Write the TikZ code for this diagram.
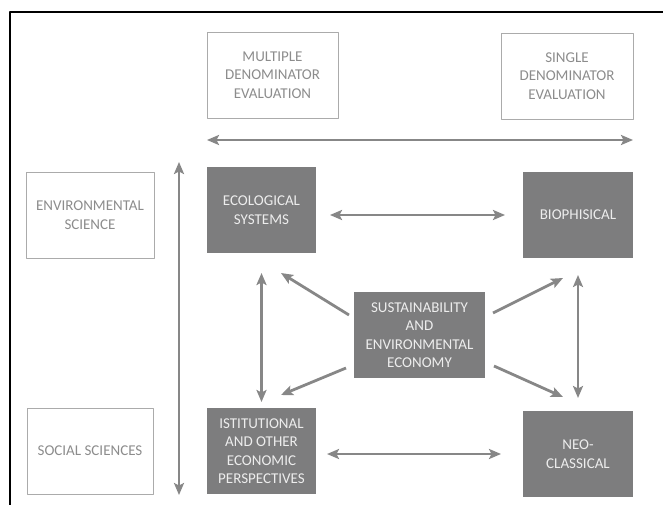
\documentclass[tikz,border=0pt]{standalone}
\usepackage{fontspec}
\setmainfont{Carlito}
\usetikzlibrary{arrows.meta}
\definecolor{boxgray}{HTML}{7D7D7E}
\definecolor{arrowgray}{HTML}{878787}
\definecolor{edgegray}{HTML}{ABABAB}
\definecolor{textgray}{HTML}{8C8C8C}

\begin{document}
\begin{tikzpicture}[x=1pt,y=-1pt,line join=round,>={Stealth[length=12pt,width=10pt,inset=2.5pt]},
    darkbox/.style={fill=boxgray,text=white!93!black,align=center,inner sep=0pt,outer sep=0pt,
      minimum width=110pt,minimum height=86pt,font=\fontsize{15}{18.5}\selectfont},
    lightbox/.style={draw=edgegray,line width=0.8pt,text=textgray,align=center,inner sep=0pt,outer sep=0pt,
      minimum width=128pt,minimum height=86pt,font=\fontsize{15}{18.5}\selectfont},
    twoway/.style={<->,draw=arrowgray,line width=2.8pt},
    oneway/.style={->,draw=arrowgray,line width=2.8pt}]
  \useasboundingbox (0,0) rectangle (663,505);
  \draw [line width=1.3pt] (10,505) -- (10,12) -- (663,12);
  % evaluation axis
  \node [lightbox,minimum width=131pt] (mde) at (272.5,75) {MULTIPLE\\DENOMINATOR\\EVALUATION};
  \node [lightbox,minimum width=132pt] (sde) at (567,76) {SINGLE\\DENOMINATOR\\EVALUATION};
  \coordinate (evalL) at (207,140);
  \coordinate (evalR) at (633,140);
  \draw [twoway] (evalL) -- (evalR);
  % science axis
  \node [lightbox] (envsci) at (90,215) {ENVIRONMENTAL\\SCIENCE};
  \node [lightbox,minimum width=126pt] (socsci) at (90,451) {SOCIAL SCIENCES};
  \coordinate (sciT) at (179,162);
  \coordinate (sciB) at (179,495);
  \draw [twoway] (sciT) -- (sciB);
  % schools
  \node [darkbox,minimum width=109pt] (eco) at (261.5,210) {ECOLOGICAL\\SYSTEMS};
  \node [darkbox] (bio) at (578,215) {BIOPHISICAL};
  \node [darkbox,minimum width=131pt] (sus) at (419.5,335) {SUSTAINABILITY\\AND\\ENVIRONMENTAL\\ECONOMY};
  \node [darkbox,minimum width=109pt] (isti) at (261.5,451) {ISTITUTIONAL\\AND OTHER\\ECONOMIC\\PERSPECTIVES};
  \node [darkbox] (neo) at (578,454) {NEO-\\CLASSICAL};
  \draw [twoway,shorten <=14pt,shorten >=18pt] (eco.east |- bio.west) -- (bio.west);
  \draw [twoway,shorten <=11pt,shorten >=22pt] (isti.east |- neo.west) -- (neo.west);
  \draw [twoway,shorten <=20pt,shorten >=6pt] (eco.south) -- (isti.north);
  \draw [twoway,shorten <=17pt,shorten >=13pt] (bio.south) -- (neo.north);
  \draw [oneway] ([shift={(-5,-20)}]sus.west) -- ([shift={(-35,20)}]eco.south east);
  \draw [oneway] ([shift={(8,-22)}]sus.east) -- ([shift={(40,20)}]bio.south west);
  \draw [oneway] ([shift={(-8,33)}]sus.west) -- ([shift={(-35,-13)}]isti.north east);
  \draw [oneway] ([shift={(9,31)}]sus.east) -- ([shift={(40,-14)}]neo.north west);
\end{tikzpicture}
\end{document}
